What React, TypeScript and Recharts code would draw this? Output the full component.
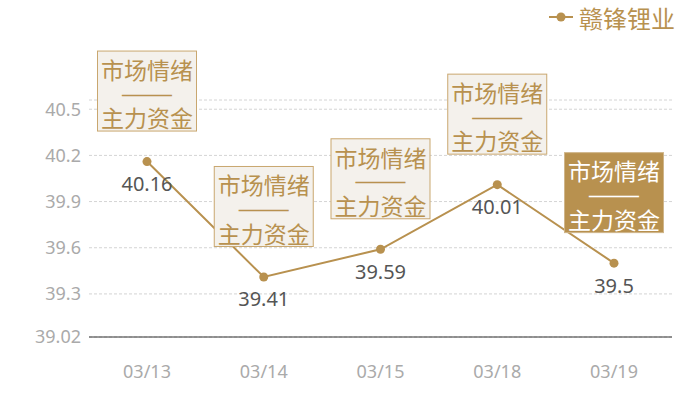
import React from 'react';
import { LineChart, Line, XAxis, YAxis, CartesianGrid, LabelList } from 'recharts';

const seriesName = '赣锋锂业';
const dates = ['03/13', '03/14', '03/15', '03/18', '03/19'];
const prices = [40.16, 39.41, 39.59, 40.01, 39.5];
const yTicks = [39.02, 39.3, 39.6, 39.9, 40.2, 40.5, 40.56];
const boxLines = ['市场情绪', '——', '主力资金'];
const highlightDate = '03/19';

const data = dates.map((d, i) => ({ date: d, price: prices[i] }));

const GOLD = '#b8914f';
const FONT = '"Noto Sans", "Noto Sans CJK SC", sans-serif';
const CJK = '"Noto Sans CJK SC", "Noto Sans", sans-serif';
const yMin = yTicks[0];
const yMax = yTicks[yTicks.length - 1];

const ValueLabel = (props: any) => {
  const { x, y, value } = props;
  return (
    <text x={x} y={y + 22} textAnchor="middle" dominantBaseline="central" fill="#555" fontSize={20} fontFamily={FONT}>
      {value}
    </text>
  );
};

const BoxLabel = (props: any) => {
  const { x, y, index } = props;
  const active = dates[index] === highlightDate;
  const w = 100;
  const h = 81;
  const top = y - 30 - h;
  const left = x - w / 2;
  const offsets = [18.3, 42.5, 66.7];
  const color = active ? '#fff' : GOLD;
  return (
    <g>
      <rect x={left + 0.5} y={top + 0.5} width={w - 1} height={h - 1} fill={active ? GOLD : '#f4f1ec'} stroke={active ? '#cfb58a' : '#c9a76f'} strokeWidth={1} />
      {boxLines.map((t, i) => {
        const isDash = i === 1;
        return (
          <text
            key={i}
            x={x}
            y={top + offsets[i]}
            textAnchor="middle"
            dominantBaseline="central"
            fill={color}
            stroke={isDash ? color : 'none'}
            strokeWidth={isDash ? 0.7 : 0}
            fontSize={isDash ? 10 : 23}
            fontWeight={isDash ? 700 : 400}
            fontFamily={CJK}
            textLength={isDash ? 51 : 92}
            lengthAdjust="spacingAndGlyphs"
          >
            {t}
          </text>
        );
      })}
    </g>
  );
};

export default function App() {
  return (
    <div style={{ position: 'absolute', left: 0, top: 0, width: 700, height: 400, background: '#fff' }}>
      <LineChart width={700} height={400} data={data} margin={{ top: 100, right: 28, left: 0, bottom: 0 }}>
        <CartesianGrid vertical={false} stroke="#d4d4d4" strokeDasharray="3 2" />
        <XAxis
          dataKey="date"
          padding={{ left: 58, right: 58 }}
          axisLine={{ stroke: '#333' }}
          tickLine={false}
          tickMargin={22}
          height={63}
          tick={{ fill: '#aaa', fontSize: 18, fontFamily: FONT }}
        />
        <YAxis
          domain={[yMin, yMax]}
          ticks={yTicks}
          width={89}
          axisLine={false}
          tickLine={false}
          interval={0}
          tickFormatter={(v: number) => (v === yMax ? '' : String(v))}
          tick={{ fill: '#aaa', fontSize: 18, fontFamily: FONT }}
        />
        <Line
          dataKey="price"
          name={seriesName}
          stroke={GOLD}
          strokeWidth={2}
          dot={{ r: 4.5, fill: GOLD, stroke: 'none' }}
          activeDot={false}
          isAnimationActive={false}
        >
          <LabelList dataKey="price" content={ValueLabel} />
          <LabelList dataKey="price" content={BoxLabel} />
        </Line>
      </LineChart>
      <div style={{ position: 'absolute', left: 548, top: 3, height: 28, display: 'flex', alignItems: 'center', fontFamily: CJK, fontSize: 24, color: GOLD }}>
        <svg width={26} height={28} style={{ marginRight: 5 }}>
          <line x1={1} y1={14} x2={25} y2={14} stroke={GOLD} strokeWidth={2} />
          <circle cx={13} cy={14} r={4.5} fill={GOLD} />
        </svg>
        <span>{seriesName}</span>
      </div>
    </div>
  );
}
